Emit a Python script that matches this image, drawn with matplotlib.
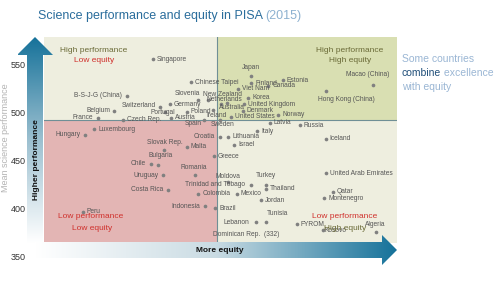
import numpy as np
import matplotlib.pyplot as plt
from matplotlib.colors import LinearSegmentedColormap
from matplotlib.patches import Polygon, Rectangle

plt.rcParams['font.family'] = ['Liberation Sans', 'DejaVu Sans']

# PISA 2015: mean science score vs % of variation explained by socio-economic status
countries = ['Singapore', 'Chinese Taipei', 'B-S-J-G (China)', 'Japan', 'Finland', 'Estonia',
             'Viet Nam', 'Canada', 'Macao (China)', 'Hong Kong (China)', 'Korea', 'United Kingdom',
             'Slovenia', 'New Zealand', 'Netherlands', 'Australia', 'Germany', 'Switzerland',
             'Portugal', 'Poland', 'Austria', 'Belgium', 'France', 'Czech Rep.', 'Ireland',
             'Spain', 'Sweden', 'Denmark', 'Norway', 'United States', 'Latvia', 'Russia',
             'Luxembourg', 'Hungary', 'Italy', 'Croatia', 'Lithuania', 'Israel', 'Slovak Rep.',
             'Malta', 'Bulgaria', 'Chile', 'Greece', 'Iceland', 'Romania', 'Uruguay', 'Moldova',
             'Turkey', 'Trinidad and Tobago', 'Thailand', 'Costa Rica', 'Colombia', 'Mexico',
             'Jordan', 'Indonesia', 'Brazil', 'Peru', 'Lebanon', 'Tunisia', 'FYROM', 'Kosovo',
             'Algeria', 'Qatar', 'Montenegro', 'United Arab Emirates']
equity = [17.4, 14.7, 19.2, 10.5, 10.5, 8.3,
          11.4, 9.3, 2.0, 5.3, 10.7, 11.0,
          14.2, 13.5, 12.6, 12.2, 16.2, 16.9,
          16.5, 15.0, 16.1, 20.1, 21.2, 19.5, 13.2,
          13.8, 12.7, 11.1, 8.6, 11.9, 9.2, 7.1,
          21.5, 22.1, 10.1, 12.7, 12.1, 11.7, 16.6,
          15.0, 17.0, 17.5, 13.1, 5.3, 14.4, 16.7, 12.1,
          9.5, 10.5, 9.5, 16.3, 14.2, 11.5,
          9.8, 13.7, 13.0, 22.3, 10.2, 9.5, 7.3, 5.5,
          1.8, 4.8, 5.4, 5.3]
science = [556, 532, 518, 538, 531, 534,
           525, 528, 529, 523, 516, 509,
           513, 513, 509, 510, 509, 506,
           501, 501, 495, 502, 495, 493, 503,
           493, 493, 502, 498, 496, 490, 487,
           483, 477, 481, 475, 475, 467, 461,
           465, 446, 447, 455, 473, 435, 435, 428,
           425, 425, 421, 420, 416, 416,
           409, 403, 401, 397, 386, 386, 384, 378,
           376, 418, 411, 437]

oecd_equity = 12.9
oecd_score = 493
y_ticks = [350, 400, 450, 500, 550]

# label placement (dx, dy in pixels, alignment); default is to the right
label_pos = {
    'B-S-J-G (China)': (-5, 0, 'right'), 'Japan': (0, 9, 'center'),
    'Macao (China)': (-5, 11, 'center'), 'Hong Kong (China)': (21, -9, 'center'),
    'Slovenia': (2, 7, 'right'), 'New Zealand': (-5, 6, 'left'),
    'Netherlands': (3, 5, 'center'), 'Australia': (5, -4, 'center'),
    'Switzerland': (-4, 2, 'right'), 'Portugal': (-3, -1, 'center'),
    'Belgium': (-4, 0, 'right'), 'France': (-5, 0, 'right'),
    'Ireland': (4, -5, 'center'), 'Spain': (-2, -4, 'right'),
    'Sweden': (3, -5, 'center'), 'Hungary': (-5, 0, 'right'),
    'Croatia': (-5, 0, 'right'), 'Slovak Rep.': (1, 8, 'center'),
    'Bulgaria': (2, 9, 'center'), 'Chile': (-5, 0, 'right'),
    'Romania': (-2, 8, 'center'), 'Uruguay': (-4, 0, 'right'),
    'Moldova': (0, 6, 'center'), 'Turkey': (0, 9, 'center'),
    'Trinidad and Tobago': (-6, 0, 'right'), 'Costa Rica': (-5, 0, 'right'),
    'Indonesia': (-5, 0, 'right'), 'Lebanon': (-6, 0, 'right'),
    'Tunisia': (1, 9, 'left'), 'Algeria': (0, 8, 'center'),
    'Kosovo': (2, 0, 'left'),
}

beige = '#eeeedf'
green = '#d9dfb2'
red = '#e3b5b4'
teal = '#16729a'
olive = '#6b6b38'
warn = '#d0312d'

fig = plt.figure(figsize=(5, 2.81), dpi=100)
ax = fig.add_axes([44 / 500, 1 - 257 / 281, 353 / 500, 220 / 281])
ax.set_xlim(25.0, 0.3)
ax.set_ylim(350, 579)
x0, x1 = 25.0, 0.3
ybot, ytop = 365, 579

ax.add_patch(Rectangle((oecd_equity, oecd_score), x0 - oecd_equity, ytop - oecd_score, color=beige, lw=0))
ax.add_patch(Rectangle((x1, oecd_score), oecd_equity - x1, ytop - oecd_score, color=green, lw=0))
ax.add_patch(Rectangle((oecd_equity, ybot), x0 - oecd_equity, oecd_score - ybot, color=red, lw=0))
ax.add_patch(Rectangle((x1, ybot), oecd_equity - x1, oecd_score - ybot, color=beige, lw=0))
ax.plot([x0, x1], [oecd_score, oecd_score], color='#6f8f96', lw=0.8)
ax.plot([oecd_equity, oecd_equity], [ybot, ytop], color='#6f8f96', lw=0.8)

ax.scatter(equity, science, s=7, color='#808080', linewidths=0, zorder=3)
for name, x, y in zip(countries, equity, science):
    dx, dy, ha = label_pos.get(name, (4, 0, 'left'))
    ax.annotate(name, (x, y), xytext=(dx, dy), textcoords='offset pixels',
                ha=ha, va='center', fontsize=4.8, color='#555555', zorder=4)
ax.text(13.2, 373, 'Dominican Rep.  (332)', ha='left', va='center', fontsize=4.8, color='#555555')

ax.set_xticks([])
ax.set_yticks(y_ticks)
ax.tick_params(axis='y', length=0, pad=13, labelsize=6.5, labelcolor='#333333')
for s in ax.spines.values():
    s.set_visible(False)
ax.patch.set_alpha(0)

# overlay in pixel coordinates for arrows and free text
ov = fig.add_axes([0, 0, 1, 1], zorder=2)
ov.patch.set_alpha(0)
ov.axis('off')

g = np.linspace(0, 1, 256)
cmap_v = LinearSegmentedColormap.from_list('v', ['#ffffff', '#9cc0d0', teal])
im = ov.imshow(g.reshape(-1, 1), cmap=cmap_v, extent=[18, 53, 243, 37], origin='lower', aspect='auto')
poly = Polygon([(27, 243), (43, 243), (43, 55), (53, 55), (35, 37), (17, 55), (27, 55)],
               closed=True, fc='none', ec='none')
ov.add_patch(poly)
im.set_clip_path(poly)

cmap_h = LinearSegmentedColormap.from_list('h', ['#ffffff', '#c9dbe3', teal])
im2 = ov.imshow(g.reshape(1, -1), cmap=cmap_h, extent=[35, 397, 265, 235], origin='lower', aspect='auto')
poly2 = Polygon([(35, 242), (382, 242), (382, 235), (397, 250), (382, 265), (382, 258), (35, 258)],
                closed=True, fc='none', ec='none')
ov.add_patch(poly2)
im2.set_clip_path(poly2)

ov.set_xlim(0, 500)
ov.set_ylim(281, 0)

ov.text(36, 160, 'Higher performance', rotation=90, ha='center', va='center',
        fontsize=6, fontweight='bold', color='#111111')
ov.text(220, 251, 'More equity', ha='center', va='center', fontsize=6, fontweight='bold', color='#111111')
ov.text(6, 138, 'Mean science performance', rotation=90, ha='center', va='center',
        fontsize=6.5, color='#b4b4b4')

# quadrant captions
ov.text(94, 50, 'High performance', ha='center', va='center', fontsize=6, color=olive)
ov.text(94, 60, 'Low equity', ha='center', va='center', fontsize=6, color=warn)
ov.text(350, 50, 'High performance', ha='center', va='center', fontsize=6, color=olive)
ov.text(350, 60, 'High equity', ha='center', va='center', fontsize=6, color=olive)
ov.text(91, 217, 'Low performance', ha='center', va='center', fontsize=6, color=warn)
ov.text(92, 228, 'Low equity', ha='center', va='center', fontsize=6, color=warn)
ov.text(345, 217, 'Low performance', ha='center', va='center', fontsize=6, color=warn)
ov.text(345, 228, 'High equity', ha='center', va='center', fontsize=6, color=olive)

# title
t1 = ov.text(38, 22, 'Science performance and equity in PISA ', ha='left', va='bottom',
             fontsize=9, color='#2a6d9c')
ov.annotate('(2015)', xy=(1, 0), xycoords=t1, ha='left', va='bottom', fontsize=9, color='#8db1d0')

# side note
light = '#9ab6d4'
ov.text(402, 59, 'Some countries', ha='left', va='center', fontsize=7.5, color=light)
t2 = ov.text(402, 73, 'combine', ha='left', va='center', fontsize=7.5, color='#1f4e79')
ov.annotate(' excellence', xy=(1, 0), xycoords=t2, ha='left', va='bottom', fontsize=7.5, color=light)
ov.text(402, 87, 'with equity', ha='left', va='center', fontsize=7.5, color=light)

fig.savefig('out.png', dpi=100)
